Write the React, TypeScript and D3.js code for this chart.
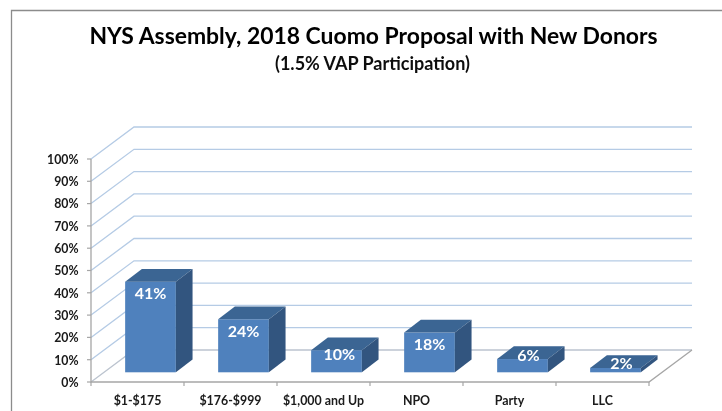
import * as d3 from "d3"

const categories = ["$1-$175", "$176-$999", "$1,000 and Up", "NPO", "Party", "LLC"]
const shares = [41, 24, 10, 18, 6, 2]
const yTicks = [0, 10, 20, 30, 40, 50, 60, 70, 80, 90, 100]

const FONT = "Lato, 'Open Sans', sans-serif"

export default function App() {
  const width = 722
  const height = 411

  // Chart box of the 3D plot: front plane plus the depth offset to the back wall
  const depthX = 43
  const depthY = 32
  const x = d3.scaleBand<string>().domain(categories).range([91, 649])
  const y = d3.scaleLinear().domain([0, 100]).range([382, 159])

  // Bars stand in the middle of the floor and are a bit shorter than the axis scale
  const barDepthX = 16.7
  const barDepthY = 12.7
  const barWidth = 50.7
  const barBase = 372.3
  const barOffsetX = 13
  const barHeight = d3.scaleLinear().domain([0, 100]).range([0, 221])

  // Short bars have their label pushed up on the top face
  const labelDy = d3.scaleLinear().domain([13, 30]).range([-4, 12]).clamp(true)
  const labelDx = d3.scaleLinear().domain([13, 30]).range([6, 0]).clamp(true)

  const line = d3.line()

  return (
    <svg
      width={width}
      height={height}
      style={{ position: "absolute", left: 0, top: 0, background: "#fff" }}
    >
      <defs>
        <filter id="soft" x="-5%" y="-5%" width="110%" height="110%">
          <feGaussianBlur stdDeviation="0.45" />
        </filter>
      </defs>

      <g filter="url(#soft)">
        {/* Outer frame */}
        <path d="M11.5 411V10.5H722" fill="none" stroke="#8c8c8c" strokeWidth={1.3} />

        <text x={373.5} y={44} textAnchor="middle" fontFamily={FONT} fontWeight={700} fontSize={22.9} fill="#000">
          NYS Assembly, 2018 Cuomo Proposal with New Donors
        </text>
        <text x={372.5} y={69.5} textAnchor="middle" fontFamily={FONT} fontWeight={700} fontSize={18} fill="#111">
          (1.5% VAP Participation)
        </text>

        {/* Gridlines on side and back wall */}
        {yTicks.map((t) => (
          <path
            key={t}
            d={
              line([
                [91, y(t)],
                [91 + depthX, y(t) - depthY],
                [649 + depthX, y(t) - depthY],
              ]) as string
            }
            fill="none"
            stroke={t === 0 ? "#bcc4cf" : "#b5cbe5"}
            strokeWidth={1.3}
          />
        ))}

        {/* Floor and axes */}
        <path
          d={
            line([
              [91, y(100)],
              [91, y(0)],
              [649, y(0)],
              [649 + depthX, y(0) - depthY],
            ]) as string
          }
          fill="none"
          stroke="#a6a6a6"
          strokeWidth={1.3}
        />
        {yTicks.map((t) => (
          <line key={t} x1={87} x2={91} y1={y(t)} y2={y(t)} stroke="#a6a6a6" strokeWidth={1.2} />
        ))}
        {categories.map((c) => (
          <line
            key={c}
            x1={(x(c) as number) + x.bandwidth()}
            x2={(x(c) as number) + x.bandwidth()}
            y1={y(0)}
            y2={y(0) + 4}
            stroke="#a6a6a6"
            strokeWidth={1.2}
          />
        ))}
        <line x1={91} x2={91} y1={y(0)} y2={y(0) + 4} stroke="#a6a6a6" strokeWidth={1.2} />

        {yTicks.map((t) => (
          <text
            key={t}
            x={78.5}
            y={y(t) + 4.8}
            textAnchor="end"
            fontFamily={FONT}
            fontWeight={700}
            fontSize={12.3}
            fill="#1a1a1a"
          >
            {t}%
          </text>
        ))}

        {categories.map((c) => (
          <text
            key={c}
            x={(x(c) as number) + x.bandwidth() / 2}
            y={404.5}
            textAnchor="middle"
            fontFamily={FONT}
            fontWeight={700}
            fontSize={12.4}
            fill="#1a1a1a"
          >
            {c}
          </text>
        ))}

        {/* Bars */}
        {categories.map((c, i) => {
          const h = barHeight(shares[i])
          const left = (x(c) as number) + x.bandwidth() / 2 + barOffsetX - barWidth / 2
          const right = left + barWidth
          const top = barBase - h
          return (
            <g key={c}>
              <rect x={left} y={top} width={barWidth} height={h} fill="#4f81bd" />
              <path
                d={
                  line([
                    [left, top],
                    [left + barDepthX, top - barDepthY],
                    [right + barDepthX, top - barDepthY],
                    [right, top],
                  ]) + "Z"
                }
                fill="#3a6593"
              />
              <path
                d={
                  line([
                    [right, top],
                    [right + barDepthX, top - barDepthY],
                    [right + barDepthX, barBase - barDepthY],
                    [right, barBase],
                  ]) + "Z"
                }
                fill="#32547f"
              />
            </g>
          )
        })}

        {/* Value labels */}
        {categories.map((c, i) => {
          const h = barHeight(shares[i])
          const cx = (x(c) as number) + x.bandwidth() / 2 + barOffsetX
          return (
            <text
              key={c}
              x={cx + labelDx(h)}
              y={barBase - h + labelDy(h) + 5.5}
              textAnchor="middle"
              fontFamily={FONT}
              fontWeight={700}
              fontSize={16}
              fill="#fff"
            >
              {shares[i]}%
            </text>
          )
        })}
      </g>
    </svg>
  )
}
